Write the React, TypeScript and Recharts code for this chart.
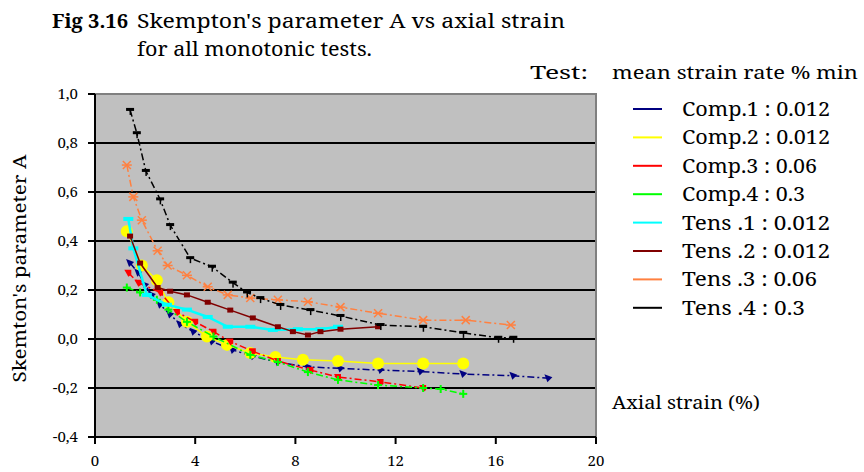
import React from 'react';
import {
  ScatterChart,
  Scatter,
  XAxis,
  YAxis,
  CartesianGrid,
  ReferenceArea,
  Legend,
} from 'recharts';

const SERIF = '"Noto Serif", "Liberation Serif", serif';
const FONT_STYLE = { fontFamily: SERIF };

const xTicks = [0, 4, 8, 12, 16, 20];
const yTicks = [-0.4, -0.2, 0, 0.2, 0.4, 0.6, 0.8, 1.0];
const gridLevels = [-0.2, 0, 0.2, 0.4, 0.6, 0.8];

// Each point: [axial strain (%), Skempton's A]
const comp1 = [
  [1.4, 0.31], [1.73, 0.27], [2.0, 0.22], [2.27, 0.18], [2.6, 0.14], [3.0, 0.1],
  [3.4, 0.06], [3.93, 0.03], [4.67, -0.01], [5.5, -0.045], [6.3, -0.07], [7.3, -0.095],
  [8.5, -0.114], [9.8, -0.12], [11.4, -0.127], [13.0, -0.133], [14.7, -0.143],
  [16.7, -0.15], [18.1, -0.16],
];
const comp2 = [
  [1.27, 0.44], [1.87, 0.3], [2.47, 0.24], [2.93, 0.15], [3.67, 0.07], [4.47, 0.01],
  [5.27, -0.024], [6.2, -0.057], [7.2, -0.073], [8.3, -0.085], [9.7, -0.09],
  [11.3, -0.1], [13.1, -0.1], [14.7, -0.1],
];
const comp3 = [
  [1.33, 0.27], [1.73, 0.23], [2.6, 0.19], [3.27, 0.11], [4.0, 0.07], [4.73, 0.03],
  [5.4, -0.01], [6.3, -0.05], [7.3, -0.09], [8.6, -0.127], [9.7, -0.155],
  [11.4, -0.175], [13.1, -0.2],
];
const comp4 = [
  [1.27, 0.21], [1.8, 0.19], [2.47, 0.16], [2.93, 0.12], [3.67, 0.07], [4.73, 0.01],
  [6.2, -0.065], [7.3, -0.094], [8.5, -0.135], [9.7, -0.167], [11.3, -0.188],
  [13.1, -0.2], [13.8, -0.204], [14.7, -0.224],
];
const tens1 = [
  [1.33, 0.49], [1.53, 0.37], [2.07, 0.18], [2.87, 0.14], [3.67, 0.12], [4.5, 0.09],
  [5.3, 0.05], [6.2, 0.05], [7.1, 0.037], [8.1, 0.04], [9.0, 0.04], [9.7, 0.05],
];
const tens2 = [
  [1.4, 0.42], [1.8, 0.31], [2.5, 0.21], [3.0, 0.195], [3.67, 0.18], [4.5, 0.15],
  [5.4, 0.118], [6.3, 0.086], [7.3, 0.05], [7.9, 0.03], [8.5, 0.016], [9.0, 0.03],
  [9.8, 0.04], [11.3, 0.05],
];
const tens3 = [
  [1.27, 0.71], [1.53, 0.58], [1.87, 0.485], [2.5, 0.36], [2.9, 0.3], [3.67, 0.26],
  [4.5, 0.213], [5.3, 0.18], [6.2, 0.167], [7.3, 0.16], [8.5, 0.152], [9.8, 0.13],
  [11.3, 0.105], [13.1, 0.077], [14.8, 0.077], [16.6, 0.057],
];
const tens4 = [
  [1.4, 0.935], [1.67, 0.84], [2.03, 0.686], [2.6, 0.57], [3.0, 0.465], [3.8, 0.33],
  [4.67, 0.295], [5.5, 0.23], [6.07, 0.19], [6.6, 0.167], [7.4, 0.139], [8.6, 0.118],
  [9.8, 0.094], [11.4, 0.057], [13.1, 0.05], [14.7, 0.025], [16.1, 0.005], [16.7, 0.005],
];

const testNames = ['Comp.1', 'Comp.2', 'Comp.3', 'Comp.4', 'Tens .1', 'Tens .2', 'Tens .3', 'Tens .4'];
const strainRates = ['0.012', '0.012', '0.06', '0.3', '0.012', '0.012', '0.06', '0.3'];

const DASH_DOT = '7 3 2 3';

type MarkerKind = 'triangle' | 'circle' | 'square' | 'plus' | 'bar' | 'block' | 'star' | 'tee';

const series = [
  { data: comp1, color: '#000080', dash: DASH_DOT, width: 1.5, marker: 'triangle' as MarkerKind },
  { data: comp2, color: '#FFFF00', dash: undefined, width: 1.5, marker: 'circle' as MarkerKind },
  { data: comp3, color: '#FF0000', dash: DASH_DOT, width: 1.5, marker: 'square' as MarkerKind },
  { data: comp4, color: '#00FF00', dash: DASH_DOT, width: 1.5, marker: 'plus' as MarkerKind },
  { data: tens1, color: '#00FFFF', dash: undefined, width: 2.5, marker: 'bar' as MarkerKind },
  { data: tens2, color: '#800000', dash: undefined, width: 1.5, marker: 'block' as MarkerKind },
  { data: tens3, color: '#FF8040', dash: DASH_DOT, width: 1.5, marker: 'star' as MarkerKind },
  { data: tens4, color: '#000000', dash: DASH_DOT, width: 1.5, marker: 'tee' as MarkerKind },
].map((s, i) => ({
  ...s,
  name: testNames[i],
  label: `${testNames[i]} : ${strainRates[i]}`,
  points: s.data.map(([x, y]) => ({ x, y })),
}));

// Advance widths of the legend labels (the face is a wide serif, so each
// label is fitted to its width with textLength).
const legendWidths = [148, 148, 135, 123, 148, 148, 135, 123];

function Marker({ cx, cy, kind, color }: { cx: number; cy: number; kind: MarkerKind; color: string }) {
  if (cx == null || cy == null || isNaN(cx) || isNaN(cy)) return null;
  switch (kind) {
    case 'circle':
      return <circle cx={cx} cy={cy} r={6} fill={color} />;
    case 'triangle':
      return <path d={`M${cx - 4},${cy - 4} L${cx + 4},${cy - 1} L${cx - 1},${cy + 4} Z`} fill={color} />;
    case 'square':
      return <path d={`M${cx - 4},${cy - 3} L${cx + 3},${cy - 3} L${cx + 3},${cy + 2} L${cx},${cy + 4} Z`} fill={color} />;
    case 'plus':
      return (
        <g stroke={color} strokeWidth={2}>
          <line x1={cx - 4} y1={cy} x2={cx + 4} y2={cy} />
          <line x1={cx} y1={cy - 4} x2={cx} y2={cy + 4} />
        </g>
      );
    case 'bar':
      return <rect x={cx - 5} y={cy - 2} width={10} height={4} fill={color} />;
    case 'block':
      return <rect x={cx - 3} y={cy - 2.5} width={6} height={5} fill={color} />;
    case 'star':
      return (
        <g stroke={color} strokeWidth={1.5}>
          <line x1={cx - 4} y1={cy - 4} x2={cx + 4} y2={cy + 4} />
          <line x1={cx - 4} y1={cy + 4} x2={cx + 4} y2={cy - 4} />
          <line x1={cx - 5} y1={cy} x2={cx + 5} y2={cy} />
        </g>
      );
    case 'tee':
      return (
        <g fill={color}>
          <rect x={cx - 4} y={cy - 2} width={8} height={3} />
          <rect x={cx - 0.5} y={cy} width={1.5} height={5} />
        </g>
      );
    default:
      return null;
  }
}

const yTickFormat = (v: number) => {
  const s = Math.abs(v).toFixed(1).replace('.', ',');
  return v < -1e-9 ? `-${s}` : s;
};

const YTitle = (props: any) => {
  const vb = props.viewBox || { x: 0, y: 94, width: 95, height: 343 };
  const cx = 19;
  const cy = vb.y + vb.height / 2 + 3;
  return (
    <text
      x={cx}
      y={cy}
      transform={`rotate(-90 ${cx} ${cy})`}
      textAnchor="middle"
      dominantBaseline="central"
      style={FONT_STYLE}
      fontSize={18}
      textLength={228}
      lengthAdjust="spacingAndGlyphs"
      fill="#000"
    >
      Skemton's parameter A
    </text>
  );
};

const XTitle = (props: any) => {
  const vb = props.viewBox || { x: 95, y: 437, width: 501, height: 35 };
  return (
    <text
      x={vb.x + vb.width + 16}
      y={vb.y - 35}
      dominantBaseline="central"
      style={FONT_STYLE}
      fontSize={18}
      textLength={148}
      lengthAdjust="spacingAndGlyphs"
      fill="#000"
    >
      Axial strain (%)
    </text>
  );
};

const LegendBox = () => (
  <svg width={234} height={240} style={{ display: 'block' }}>
    {series.map((s, i) => {
      const cy = 14 + i * 28.4;
      return (
        <g key={s.name}>
          <line x1={3} y1={cy} x2={32} y2={cy} stroke={s.color} strokeWidth={2} />
          <text
            x={52}
            y={cy}
            dominantBaseline="central"
            style={FONT_STYLE}
            fontSize={19}
            textLength={legendWidths[i]}
            lengthAdjust="spacingAndGlyphs"
            fill="#000"
          >
            {s.label}
          </text>
        </g>
      );
    })}
  </svg>
);

const Headings = () => (
  <svg
    width={864}
    height={90}
    style={{ position: 'absolute', left: 0, top: 0, pointerEvents: 'none', fontFamily: SERIF }}
  >
    <g fill="#000">
      <text x={52} y={28} style={FONT_STYLE} fontSize={20} fontWeight="bold" textLength={76} lengthAdjust="spacingAndGlyphs">
        Fig 3.16
      </text>
      <text x={137} y={28} style={FONT_STYLE} fontSize={20} textLength={428} lengthAdjust="spacingAndGlyphs">
        Skempton's parameter A vs axial strain
      </text>
      <text x={137} y={56} style={FONT_STYLE} fontSize={20} textLength={235} lengthAdjust="spacingAndGlyphs">
        for all monotonic tests.
      </text>
      <text x={530} y={79} style={FONT_STYLE} fontSize={18} textLength={58} lengthAdjust="spacingAndGlyphs">
        Test:
      </text>
      <text x={612} y={79} style={FONT_STYLE} fontSize={18} textLength={246} lengthAdjust="spacingAndGlyphs">
        mean strain rate % min
      </text>
    </g>
  </svg>
);

const tickStyle = { fontSize: 15, fill: '#000', style: FONT_STYLE };

export default function App() {
  return (
    <div
      style={{
        position: 'absolute',
        left: 0,
        top: 0,
        width: 864,
        height: 472,
        background: '#fff',
        fontFamily: SERIF,
      }}
    >
      <ScatterChart
        width={864}
        height={472}
        margin={{ top: 94, right: 268, bottom: 0, left: 0 }}
        style={{ position: 'absolute', left: 0, top: 0, fontFamily: SERIF }}
      >
        <CartesianGrid
          fill="#C0C0C0"
          vertical={false}
          horizontalValues={gridLevels}
          stroke="#000"
          strokeWidth={2}
        />
        <ReferenceArea
          x1={0}
          x2={20}
          y1={-0.4}
          y2={1}
          fill="none"
          stroke="#808080"
          strokeWidth={2}
          ifOverflow="visible"
        />
        <XAxis
          type="number"
          dataKey="x"
          domain={[0, 20]}
          ticks={xTicks}
          allowDataOverflow
          height={35}
          stroke="#000"
          strokeWidth={2}
          tickSize={7}
          tickMargin={11}
          tick={tickStyle}
          label={<XTitle />}
        />
        <YAxis
          type="number"
          dataKey="y"
          domain={[-0.4, 1]}
          ticks={yTicks}
          allowDataOverflow
          width={95}
          stroke="#000"
          strokeWidth={2}
          tickSize={7}
          tickMargin={10}
          tickFormatter={yTickFormat}
          tick={tickStyle}
          label={<YTitle />}
        />
        <Legend
          layout="vertical"
          align="center"
          verticalAlign="middle"
          content={<LegendBox />}
          wrapperStyle={{ position: 'absolute', left: 630, top: 95, width: 234 }}
        />
        {series.map((s) => (
          <Scatter
            key={s.name}
            name={s.name}
            data={s.points}
            fill={s.color}
            isAnimationActive={false}
            line={{ stroke: s.color, strokeWidth: s.width, strokeDasharray: s.dash }}
            lineType="joint"
            shape={(p: any) => <Marker cx={p.cx} cy={p.cy} kind={s.marker} color={s.color} />}
          />
        ))}
      </ScatterChart>
      <Headings />
    </div>
  );
}
